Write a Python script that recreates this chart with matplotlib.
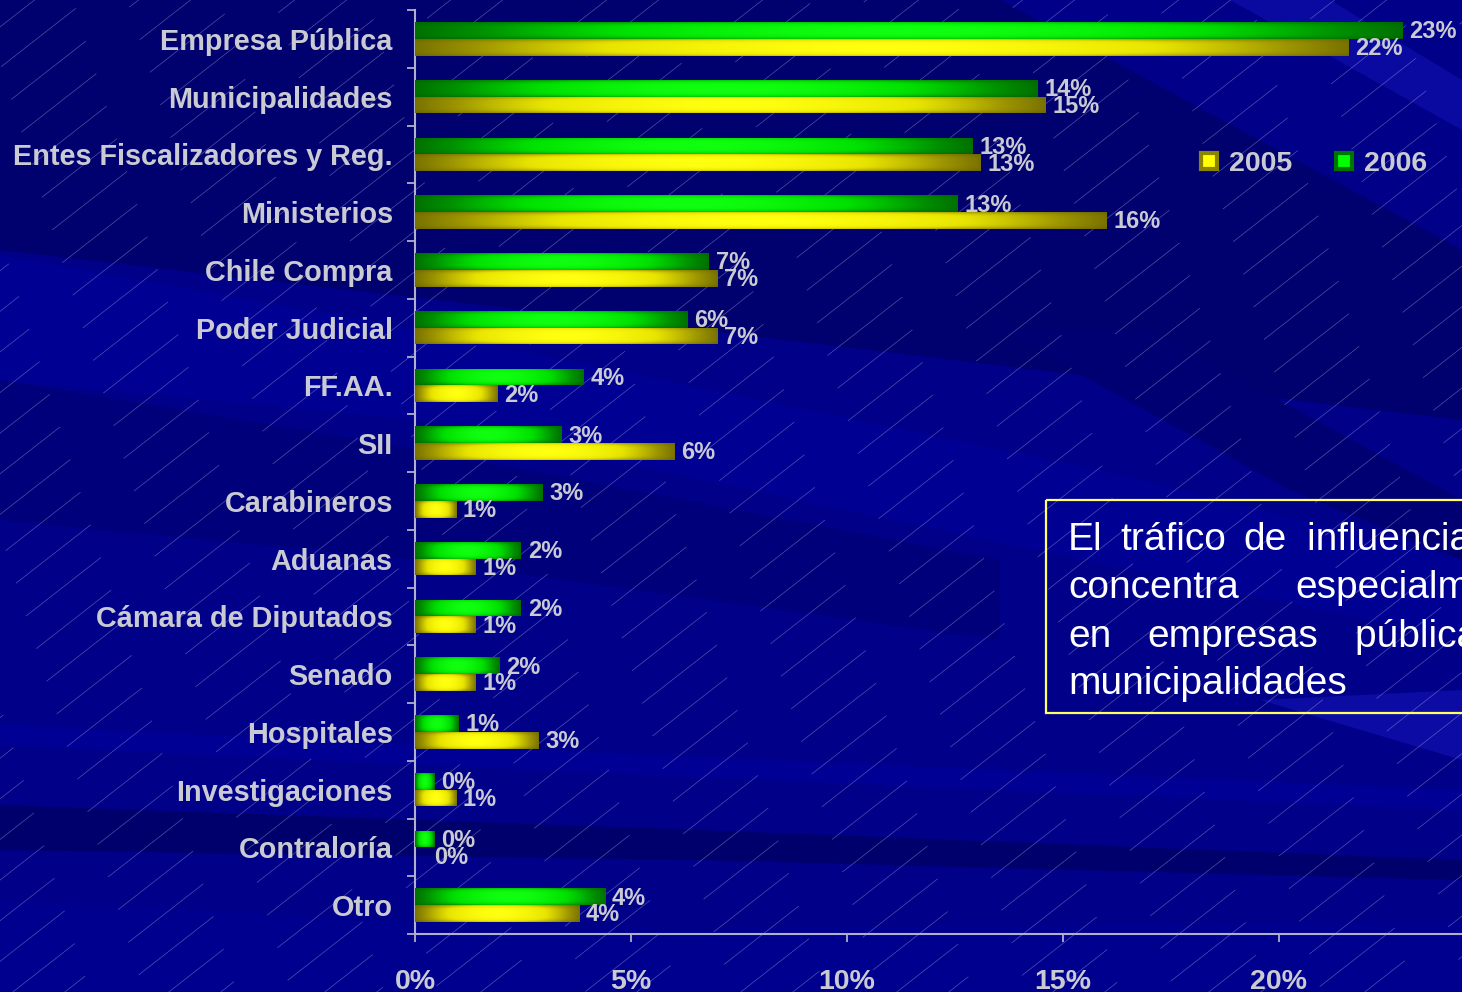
import numpy as np
import matplotlib
matplotlib.use("Agg")
import matplotlib.pyplot as plt
from matplotlib.colors import LinearSegmentedColormap
from matplotlib.patches import Rectangle, Polygon
from matplotlib.lines import Line2D
from matplotlib.collections import LineCollection

# Datos (porcentaje de menciones por institución)
categorias = ["Empresa Pública", "Municipalidades", "Entes Fiscalizadores y Reg.",
              "Ministerios", "Chile Compra", "Poder Judicial", "FF.AA.", "SII",
              "Carabineros", "Aduanas", "Cámara de Diputados", "Senado",
              "Hospitales", "Investigaciones", "Contraloría", "Otro"]
v2006 = [22.85, 14.4, 12.9, 12.55, 6.8, 6.3, 3.9, 3.4,
         2.95, 2.45, 2.45, 1.95, 1.0, 0.45, 0.45, 4.4]
v2005 = [21.6, 14.6, 13.1, 16.0, 7.0, 7.0, 1.9, 6.0,
         0.95, 1.4, 1.4, 1.4, 2.85, 0.95, 0.0, 3.8]
xticks = [0, 5, 10, 15, 20]
series = ["2005", "2006"]

W, H = 1462, 992
fondo = "#000088"
gris = "#cacad2"
eje = "#b0b0cc"

plt.rcParams["font.family"] = ["Liberation Sans", "DejaVu Sans"]

fig = plt.figure(figsize=(W / 100, H / 100), dpi=100, facecolor=fondo)

# ---- fondo: bandas diagonales y rayas finas ----
bg = fig.add_axes([0, 0, 1, 1], zorder=-5)
bg.set_xlim(0, W)
bg.set_ylim(H, 0)
bg.axis("off")
bg.add_patch(Rectangle((0, 0), W, H, color=fondo, zorder=0))
bandas = [
    ([(0, 0), (1000, 0), (1462, 250), (1462, 420), (700, 330), (0, 250)], "#00006e"),
    ([(0, 255), (420, 330), (1100, 470), (1462, 560), (1462, 640), (420, 420), (0, 380)], "#000092"),
    ([(0, 380), (420, 450), (1000, 560), (1000, 640), (420, 560), (0, 520)], "#00007a"),
    ([(0, 725), (420, 745), (1462, 790), (1462, 810), (420, 765), (0, 745)], "#000094"),
    ([(0, 805), (700, 830), (1462, 860), (1462, 880), (700, 860), (0, 850)], "#00006c"),
    ([(1000, 330), (1150, 330), (1462, 500), (1462, 560), (1290, 490)], "#000072"),
    ([(1230, 0), (1330, 0), (1462, 80), (1462, 130)], "#0a0aa0"),
    ([(1260, 700), (1462, 690), (1462, 760)], "#0c0ca4"),
    ([(0, 900), (600, 930), (1462, 920), (1462, 992), (0, 992)], "#00008e"),
]
for pts, c in bandas:
    bg.add_patch(Polygon(pts, closed=True, color=c, lw=0, zorder=1))

# rayas finas diagonales
ang = np.deg2rad(38)
d = np.array([np.cos(ang), -np.sin(ang)])
segs = []
for k in range(-40, 60):
    p0 = np.array([k * 52.0, H + 10])
    off = (k * 53) % 150
    t = -off
    while t < 1900:
        a = p0 + d * t
        b = p0 + d * (t + 95)
        segs.append([a, b])
        t += 150
bg.add_collection(LineCollection(segs, colors=[(0.8, 0.8, 0.95)], linewidths=0.5,
                                 alpha=0.4, zorder=2))

# ---- grafico de barras ----
ax = fig.add_axes([415 / W, 1 - 934 / H, 1 - 415 / W, (934 - 10) / H])
ax.set_facecolor("none")

y = np.arange(len(categorias))
alto = 0.29
b06 = ax.barh(y - alto / 2, v2006, height=alto, color="#00a000", lw=0, zorder=2)
b05 = ax.barh(y + alto / 2, v2005, height=alto, color="#b0a800", lw=0, zorder=2)

cmap05 = LinearSegmentedColormap.from_list("am", ["#5e5800", "#9c9400", "#e8e400", "#ffff10"])
cmap06 = LinearSegmentedColormap.from_list("ve", ["#005800", "#009000", "#00e000", "#10ff10"])


def gradiente(bar, cmap):
    w = bar.get_width()
    if w <= 0:
        return
    t = np.linspace(0, 1, 300)
    s = np.linspace(0, 1, 40)
    fx = 1 - np.abs(2 * t - 1) ** 1.8
    fy = 1 - np.abs(2 * s - 1) ** 4
    z = np.outer(0.55 + 0.45 * fy, 0.15 + 0.85 * fx)
    x0, y0, h = bar.get_x(), bar.get_y(), bar.get_height()
    im = ax.imshow(z, cmap=cmap, vmin=0, vmax=1, aspect="auto", interpolation="bilinear",
                   extent=[x0, x0 + w, y0 + h, y0], zorder=3)
    im.set_clip_path(bar)


for bar in b06:
    gradiente(bar, cmap06)
for bar in b05:
    gradiente(bar, cmap05)

for yi, v in zip(y, v2006):
    ax.annotate(f"{v:.0f}%", (v, yi - alto / 2), xytext=(5, -1), textcoords="offset points",
                va="center", ha="left", fontsize=17, fontweight="bold", color=gris, zorder=5)
for yi, v in zip(y, v2005):
    dx = 5 if v > 0 else 14
    ax.annotate(f"{v:.0f}%", (v, yi + alto / 2), xytext=(dx, -1), textcoords="offset points",
                va="center", ha="left", fontsize=17, fontweight="bold", color=gris, zorder=5)

ax.set_xlim(0, (W - 415) / 43.2)
ax.set_ylim(len(categorias) - 0.5, -0.5)

ax.set_yticks(y)
ax.set_yticklabels(categorias, fontsize=20.8, fontweight="bold", color=gris)
ax.set_yticks(np.arange(-0.5, len(categorias)), minor=True)
ax.tick_params(axis="y", which="major", length=0, pad=16)
ax.tick_params(axis="y", which="minor", length=6, width=1.3, color=eje)
ax.set_xticks(xticks)
ax.set_xticklabels([f"{t}%" for t in xticks], fontsize=20.5, fontweight="bold", color=gris)
ax.tick_params(axis="x", which="major", length=6, width=1.3, color=eje, pad=19)
for sp in ["top", "right"]:
    ax.spines[sp].set_visible(False)
for sp in ["left", "bottom"]:
    ax.spines[sp].set_color(eje)
    ax.spines[sp].set_linewidth(1.5)

# leyenda
handles = [Line2D([], [], ls="none", marker="s", markersize=11, markeredgewidth=3,
                  markerfacecolor="#ffff00", markeredgecolor="#8a8400"),
           Line2D([], [], ls="none", marker="s", markersize=11, markeredgewidth=3,
                  markerfacecolor="#00ff00", markeredgecolor="#007400")]
fig.legend(handles, series, loc="center", bbox_to_anchor=(1313 / W, 1 - 164 / H), ncol=2,
           frameon=False, handlelength=0.7, handletextpad=0.35, columnspacing=1.45,
           prop={"size": 20.5, "weight": "bold"}, labelcolor=gris)

# cuadro de texto
bg.add_patch(Rectangle((1046, 500), 500, 213, fill=False, ec="#ffff66", lw=1.6, zorder=6))
lineas = [
    (550, [("El", 1068), ("tráfico", 1120), ("de", 1243), ("influencias se", 1307)]),
    (598, [("concentra", 1068), ("especialmente", 1295)]),
    (647, [("en", 1068), ("empresas", 1147), ("públicas y", 1355)]),
    (694, [("municipalidades", 1068)]),
]
for yb, palabras in lineas:
    for txt, xp in palabras:
        bg.text(xp, yb, txt, fontsize=28, color="white", va="baseline", ha="left", zorder=7)

fig.savefig("out.png", dpi=100, facecolor=fig.get_facecolor())
